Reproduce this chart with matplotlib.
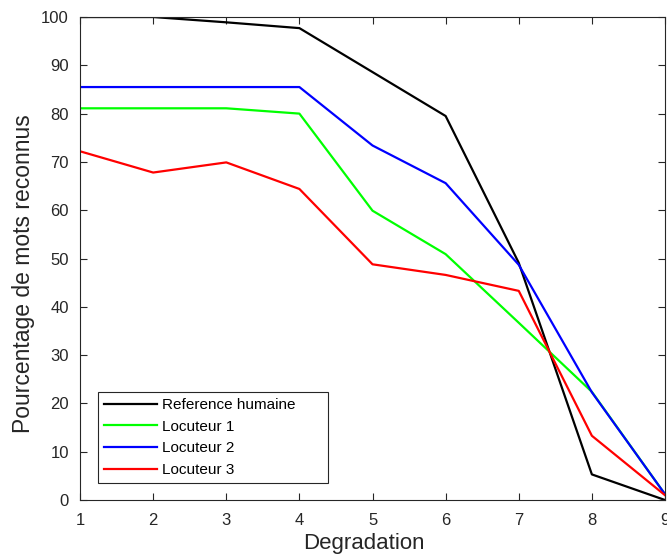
import matplotlib
matplotlib.use("Agg")
import matplotlib.pyplot as plt

plt.rcParams['font.family'] = ['Liberation Sans', 'DejaVu Sans']

x = [1, 2, 3, 4, 5, 6, 7, 8, 9]
reference = [100, 100, 98.9, 97.7, 88.6, 79.5, 49.1, 5.3, 0]
locuteur1 = [81.1, 81.1, 81.1, 80.0, 59.9, 50.9, 36.7, 22.4, 1.2]
locuteur2 = [85.5, 85.5, 85.5, 85.5, 73.4, 65.6, 48.7, 22.3, 1.2]
locuteur3 = [72.2, 67.8, 69.9, 64.4, 48.8, 46.6, 43.3, 13.3, 1.0]
labels = ['Reference humaine', 'Locuteur 1', 'Locuteur 2', 'Locuteur 3']
colors = ['#000000', '#00ff00', '#0000ff', '#ff0000']

fig = plt.figure(figsize=(6.67, 5.56), dpi=100)
ax = fig.add_axes([0.12, 0.1007, 0.877, 0.8687])
for ys, lab, c in zip([reference, locuteur1, locuteur2, locuteur3], labels, colors):
    ax.plot(x, ys, color=c, lw=1.6, label=lab)

ax.set_xlim(1, 9)
ax.set_ylim(0, 100)
ax.set_xticks(range(1, 10))
ax.set_yticks(range(0, 101, 10))
gray = '#262626'
for s in ax.spines.values():
    s.set_color(gray)
    s.set_linewidth(0.8)
ax.tick_params(direction='in', top=True, right=True, colors=gray, labelsize=12, length=5)
ax.tick_params(axis='y', pad=8)
ax.tick_params(axis='x', pad=9)
ax.set_xlabel('Degradation', fontsize=16, color=gray)
ax.xaxis.set_label_coords(0.4846, -0.068)
ax.set_ylabel('Pourcentage de mots reconnus', fontsize=16.5, color=gray)
ax.yaxis.set_label_coords(-0.0776, 0.468)
leg = ax.legend(loc='lower left', bbox_to_anchor=(0.030, 0.035, 0.3937, 0.0),
                mode='expand', borderaxespad=0,
                fontsize=11, handlelength=3.5, fancybox=False, edgecolor=gray,
                framealpha=1, labelspacing=0.5, handletextpad=0.3, borderpad=0.4)
leg.get_frame().set_linewidth(0.8)
fig.savefig('out.png', dpi=100)
